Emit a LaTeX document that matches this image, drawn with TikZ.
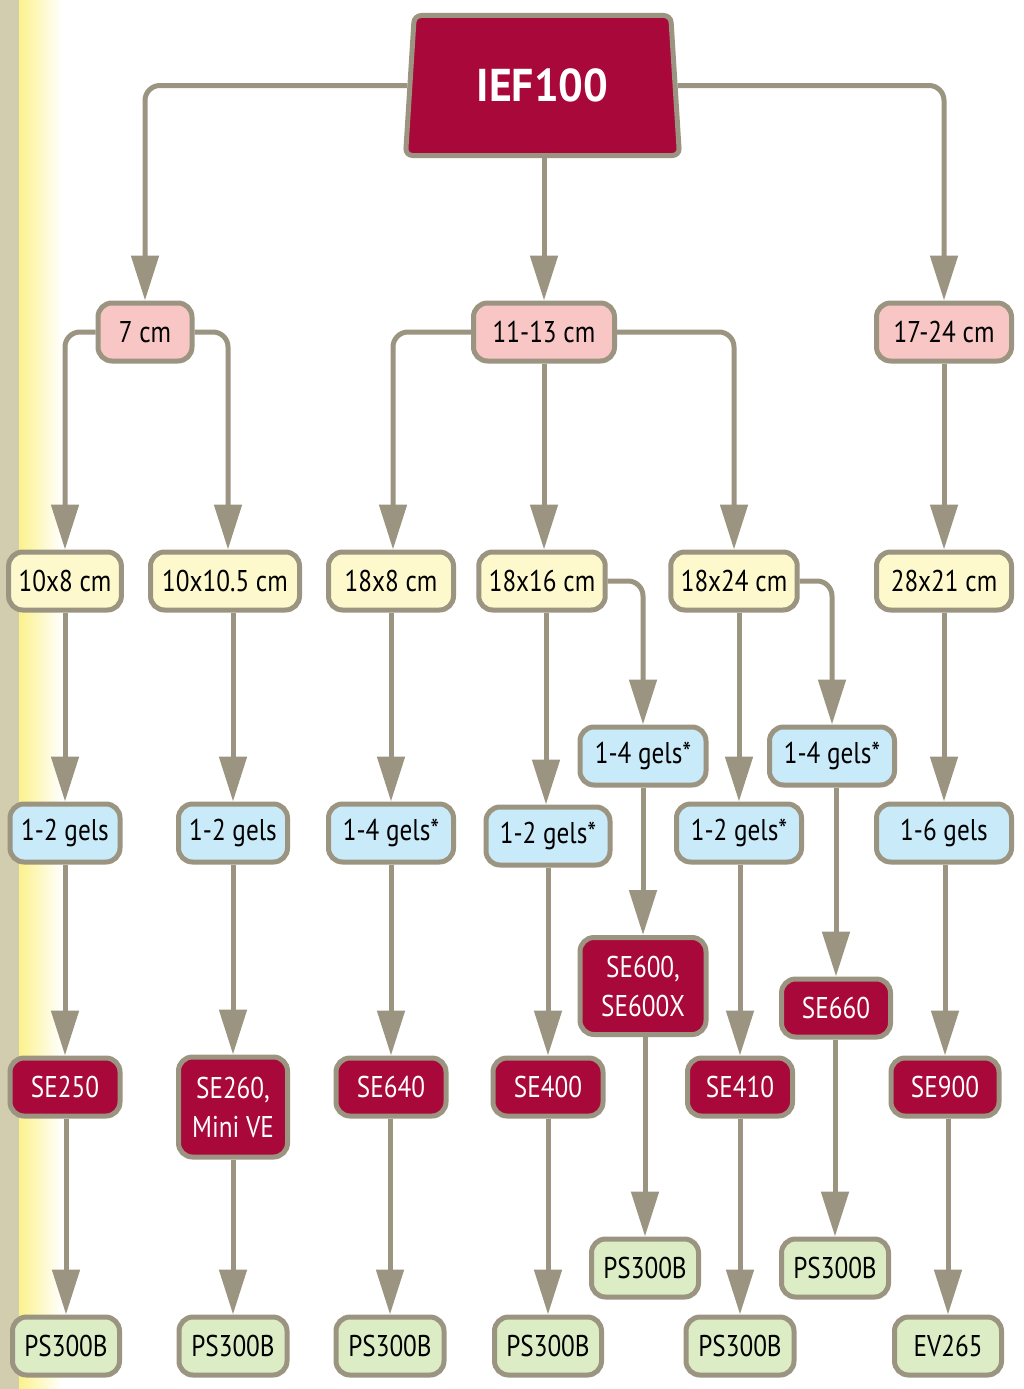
\documentclass[tikz,border=0pt]{standalone}
\usepackage{fontspec}
\setmainfont{PT Sans}[FakeStretch=0.84]
\newfontfamily\titlefont{PT Sans}[FakeStretch=0.95]
\usetikzlibrary{arrows.meta,shapes.geometric}
\definecolor{edge}{RGB}{155,148,128}
\definecolor{wine}{RGB}{168,9,58}
\definecolor{pinkbox}{RGB}{249,198,198}
\definecolor{yellowbox}{RGB}{253,249,205}
\definecolor{bluebox}{RGB}{201,234,248}
\definecolor{greenbox}{RGB}{220,236,197}
\definecolor{strip}{RGB}{211,205,175}
\definecolor{glow}{RGB}{251,242,140}
\tikzset{
  box/.style={draw=edge,line width=5pt,rounded corners=14pt,minimum height=58pt,
    minimum width=108pt,inner xsep=10pt,font=\fontsize{30}{36}\selectfont},
  cmbox/.style={box,fill=pinkbox},
  sizebox/.style={box,fill=yellowbox},
  gelbox/.style={box,fill=bluebox},
  unitbox/.style={box,fill=wine,text=white},
  supplybox/.style={box,fill=greenbox},
  conn/.style={draw=edge,line width=5pt,rounded corners=15pt,
    -{Triangle[length=45pt,width=27pt]}},
  wire/.style={draw=edge,line width=5pt}
}
\begin{document}
\begin{tikzpicture}[x=1pt,y=-1pt]
 \useasboundingbox (0,0) rectangle (1023,1389);
 \fill[white] (0,0) rectangle (1023,1389);
 \fill[strip] (0,0) rectangle (19,1389);
 \shade[left color=glow,right color=white] (19,0) rectangle (62,1389);

 \node[draw=edge,fill=wine,line width=5pt,shape=trapezium,trapezium angle=83.3,
   trapezium stretches=true,minimum width=274pt,minimum height=140pt,
   rounded corners=7pt,text=white,font=\titlefont\fontsize{46}{50}\selectfont\bfseries]
   (ief) at (542.5,85.5) {IEF100};

 \node[cmbox,minimum width=94pt] (c7) at (145,332) {7 cm};
 \node[cmbox,minimum width=141pt] (c1113) at (544,332) {11-13 cm};
 \node[cmbox,minimum width=135pt] (c1724) at (944,332) {17-24 cm};

 \node[sizebox,minimum width=110pt] (s108) at (65,581) {10x8 cm};
 \node[sizebox,minimum width=149pt] (s1010) at (225,581) {10x10.5 cm};
 \node[sizebox,minimum width=125pt] (s188) at (391,581) {18x8 cm};
 \node[sizebox,minimum width=126pt] (s1816) at (542,581) {18x16 cm};
 \node[sizebox,minimum width=126pt] (s1824) at (734,581) {18x24 cm};
 \node[sizebox,minimum width=135pt] (s2821) at (944,581) {28x21 cm};

 \node[gelbox,minimum width=126pt] (g14a) at (643,756) {1-4 gels*};
 \node[gelbox,minimum width=125pt] (g14b) at (832,756) {1-4 gels*};
 \node[gelbox,minimum width=110pt] (g12a) at (65,833) {1-2 gels};
 \node[gelbox,minimum width=109pt] (g12b) at (233,833) {1-2 gels};
 \node[gelbox,minimum width=125pt] (g14c) at (391,833) {1-4 gels*};
 \node[gelbox,minimum width=124pt] (g12c) at (548,836) {1-2 gels*};
 \node[gelbox,minimum width=125pt] (g12d) at (739,833) {1-2 gels*};
 \node[gelbox,minimum width=135pt] (g16) at (944,833) {1-6 gels};

 \node[unitbox,minimum width=126pt,minimum height=97pt,align=center,
   font=\fontsize{30}{39}\selectfont] (se600) at (643,986) {SE600,\\SE600X};
 \node[unitbox,minimum width=109pt] (se660) at (836,1008) {SE660};
 \node[unitbox,minimum width=110pt] (se250) at (65,1087) {SE250};
 \node[unitbox,minimum width=109pt,minimum height=100pt,align=center,
   font=\fontsize{30}{39}\selectfont] (se260) at (233,1107) {SE260,\\Mini VE};
 \node[unitbox,minimum width=110pt] (se640) at (391,1087) {SE640};
 \node[unitbox,minimum width=110pt] (se400) at (548,1087) {SE400};
 \node[unitbox,minimum width=105pt] (se410) at (740,1087) {SE410};
 \node[unitbox,minimum width=108pt] (se900) at (945,1087) {SE900};

 \node[supplybox,minimum width=107pt] (ps600) at (645,1268) {PS300B};
 \node[supplybox,minimum width=107pt] (ps660) at (835,1268) {PS300B};
 \node[supplybox,minimum width=107pt] (ps250) at (66,1346) {PS300B};
 \node[supplybox,minimum width=108pt] (ps260) at (233,1346) {PS300B};
 \node[supplybox,minimum width=108pt] (ps640) at (390,1346) {PS300B};
 \node[supplybox,minimum width=107pt] (ps400) at (548,1346) {PS300B};
 \node[supplybox,minimum width=108pt] (ps410) at (740,1346) {PS300B};
 \node[supplybox,minimum width=107pt] (ev265) at (948,1346) {EV265};

 \draw[conn] (ief.west) -| (c7.north);
 \draw[conn] (ief.east) -| (c1724.north);
 \draw[conn] (ief.south -| c1113.north) -- (c1113.north);

 \draw[conn] (c7.west) -| (s108.north);
 \draw[conn] (c7.east) -| ([xshift=3pt]s1010.north);
 \draw[conn] (c1113.west) -| ([xshift=2pt]s188.north);
 \draw[conn] (c1113.south) -- (c1113.south |- s1816.north);
 \draw[conn] (c1113.east) -| (s1824.north);
 \draw[conn] (c1724.south) -- (s2821.north);

 \draw[conn] (s1816.east) -| (g14a.north);
 \draw[conn] (s1824.east) -| (g14b.north);
 \draw[conn] (s108.south) -- (s108.south |- g12a.north);
 \draw[conn] (s1010.south -| g12b.north) -- (g12b.north);
 \draw[conn] (s188.south) -- (g14c.north);
 \draw[conn] (s1816.south -| 546,0) -- (g12c.north -| 546,0);
 \draw[conn] (s1824.south -| g12d.north) -- (g12d.north);
 \draw[conn] (s2821.south) -- (g16.north);

 \draw[conn] (g14a.south) -- (se600.north);
 \draw[conn] (g14b.south -| se660.north) -- (se660.north);
 \draw[conn] (g12a.south) -- (se250.north);
 \draw[conn] (g12b.south) -- (se260.north);
 \draw[conn] (g14c.south) -- (se640.north);
 \draw[conn] (g12c.south) -- (se400.north);
 \draw[conn] (g12d.south -| se410.north) -- (se410.north);
 \draw[conn] (g16.south -| se900.north) -- (se900.north);

 \draw[conn] (se600.south -| ps600.north) -- (ps600.north);
 \draw[conn] (se660.south -| ps660.north) -- (ps660.north);
 \draw[conn] (se250.south -| ps250.north) -- (ps250.north);
 \draw[conn] (se260.south) -- (ps260.north);
 \draw[conn] (se640.south -| ps640.north) -- (ps640.north);
 \draw[conn] (se400.south) -- (ps400.north);
 \draw[conn] (se410.south) -- (ps410.north);
 \draw[conn] (se900.south -| ev265.north) -- (ev265.north);
\end{tikzpicture}
\end{document}
